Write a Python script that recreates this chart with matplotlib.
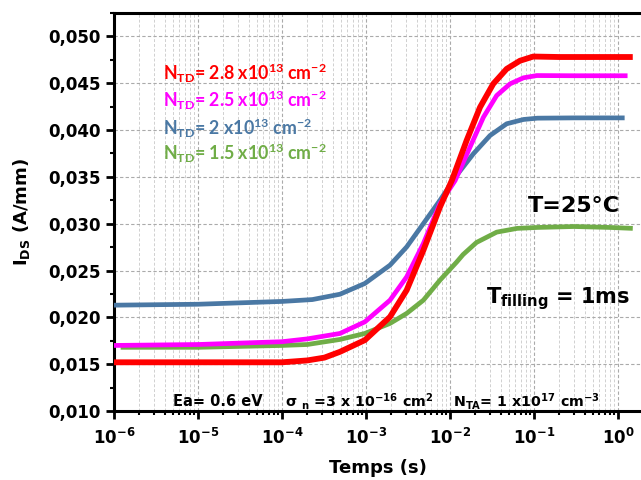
import numpy as np
import matplotlib
matplotlib.use('Agg')
import matplotlib.pyplot as plt
from matplotlib.ticker import LogLocator, MultipleLocator, NullFormatter

plt.rcParams['font.family'] = 'DejaVu Sans'
plt.rcParams['mathtext.fontset'] = 'custom'
plt.rcParams['mathtext.rm'] = 'DejaVu Sans:bold'
plt.rcParams['mathtext.bf'] = 'DejaVu Sans:bold'
plt.rcParams['mathtext.it'] = 'DejaVu Sans:bold'
plt.rcParams['mathtext.sf'] = 'Lato:bold'
plt.rcParams['mathtext.default'] = 'rm'

# data (time in s, IDS in A/mm)
t_red = [1e-6, 1e-5, 1e-4, 2e-4, 3.2e-4, 4.9e-4, 9.7e-4, 1.93e-3, 3.05e-3, 4.82e-3, 7.6e-3,
         1.05e-2, 1.58e-2, 2.28e-2, 3.27e-2, 4.73e-2, 6.8e-2, 9.8e-2, 0.2, 0.5, 1.5]
i_red = [0.0152, 0.0152, 0.0152, 0.0154, 0.0157, 0.01632, 0.01757, 0.02005, 0.0229, 0.02716, 0.03178,
         0.0346, 0.0389, 0.04244, 0.04493, 0.04653, 0.0474, 0.04785, 0.0478, 0.0478, 0.0478]

t_mag = [1e-6, 1e-5, 1e-4, 2e-4, 4.9e-4, 9.7e-4, 1.93e-3, 3.05e-3, 4.82e-3, 7.6e-3,
         1.15e-2, 1.73e-2, 2.5e-2, 3.6e-2, 5.2e-2, 7.5e-2, 0.108, 0.3, 1.3]
i_mag = [0.0170, 0.0171, 0.0174, 0.0177, 0.01828, 0.01952, 0.02183, 0.02432, 0.02788, 0.03214,
         0.0346, 0.03817, 0.04137, 0.04369, 0.04494, 0.04558, 0.04582, 0.0458, 0.0458]

t_blue = [1e-6, 1e-5, 1e-4, 2.3e-4, 4.9e-4, 9.7e-4, 1.93e-3, 3.05e-3, 4.82e-3, 7.6e-3,
          1.2e-2, 1.9e-2, 3e-2, 4.73e-2, 7.5e-2, 0.11, 0.3, 1.2]
i_blue = [0.0213, 0.0214, 0.0217, 0.0219, 0.02247, 0.02362, 0.02557, 0.02752, 0.03001, 0.0325,
          0.03516, 0.03747, 0.03942, 0.04067, 0.04113, 0.04127, 0.0413, 0.0413]

t_green = [1.2e-6, 1e-5, 1e-4, 2e-4, 4.9e-4, 9.7e-4, 1.93e-3, 3.05e-3, 4.82e-3, 7.6e-3,
           1.2e-2, 1.43e-2, 2.07e-2, 3.6e-2, 6.3e-2, 0.11, 0.3, 0.8, 1.5]
i_green = [0.0168, 0.0168, 0.0170, 0.0171, 0.01764, 0.01828, 0.01935, 0.02042, 0.02183, 0.02397,
           0.0259, 0.0267, 0.0280, 0.0291, 0.0295, 0.0296, 0.0297, 0.0296, 0.0295]

legend_labels = [r'N$\mathsf{_{TD}}$= 2.8 x10$\mathsf{^{13}}$ cm$\mathsf{^{-2}}$',
                 r'N$\mathsf{_{TD}}$= 2.5 x10$\mathsf{^{13}}$ cm$\mathsf{^{-2}}$',
                 r'N$\mathsf{_{TD}}$= 2 x10$\mathsf{^{13}}$ cm$\mathsf{^{-2}}$',
                 r'N$\mathsf{_{TD}}$= 1.5 x10$\mathsf{^{13}}$ cm$\mathsf{^{-2}}$']
colors = ['#ff0000', '#ff00ff', '#4a78a4', '#70ad47']

yticks = [0.010, 0.015, 0.020, 0.025, 0.030, 0.035, 0.040, 0.045, 0.050]
ytick_labels = ['0,010', '0,015', '0,020', '0,025', '0,030', '0,035', '0,040', '0,045', '0,050']
xticks = [1e-6, 1e-5, 1e-4, 1e-3, 1e-2, 1e-1, 1e0]
xtick_labels = [r'$10^{-6}$', r'$10^{-5}$', r'$10^{-4}$', r'$10^{-3}$',
                r'$10^{-2}$', r'$10^{-1}$', r'$10^{0}$']

fig = plt.figure(figsize=(6.41, 4.8), dpi=100)
ax = fig.add_axes([114 / 641, 1 - 411 / 480, 527 / 641, 398 / 480])

ax.plot(t_green, i_green, color=colors[3], lw=3.4, solid_capstyle='butt', zorder=3)
ax.plot(t_blue, i_blue, color=colors[2], lw=3.4, solid_capstyle='butt', zorder=3)
ax.plot(t_mag, i_mag, color=colors[1], lw=3.4, solid_capstyle='butt', zorder=4)
ax.plot(t_red, i_red, color=colors[0], lw=4.2, solid_capstyle='butt', zorder=5)

ax.set_xscale('log')
ax.set_xlim(1e-6, 1.88)
ax.set_ylim(0.010, 0.0525)

ax.set_xticks(xticks)
ax.set_xticklabels(xtick_labels, fontsize=12)
ax.xaxis.set_minor_locator(LogLocator(base=10, subs=np.arange(2, 10), numticks=20))
ax.xaxis.set_minor_formatter(NullFormatter())
ax.set_yticks(yticks)
ax.set_yticklabels(ytick_labels, fontsize=12, fontweight='bold')
ax.yaxis.set_minor_locator(MultipleLocator(0.0025))

ax.tick_params(which='major', direction='out', length=6, width=2)
ax.tick_params(which='minor', direction='out', length=3, width=1.5)
ax.tick_params(axis='x', which='major', pad=6)

ax.grid(which='major', axis='both', color='#aaaaaa', ls=(0, (3, 2)), lw=0.8)
ax.grid(which='minor', axis='x', color='#d0d0d0', ls=(0, (3, 2)), lw=0.7)
ax.set_axisbelow(True)

for s in ['left', 'bottom', 'top']:
    ax.spines[s].set_linewidth(2.2)
ax.spines['right'].set_visible(False)

ax.set_xlabel('Temps (s)', fontsize=13, fontweight='bold', labelpad=8)
ax.set_ylabel(r'I$_{DS}$ (A/mm)', fontsize=13, fontweight='bold', labelpad=12)

for lab, c, yy in zip(legend_labels, colors, [0.832, 0.764, 0.693, 0.631]):
    ax.text(0.093, yy, lab, transform=ax.transAxes, color=c, fontsize=12.8,
            fontfamily='Lato', fontweight='bold', va='baseline', ha='left')

ax.text(0.786, 0.50, 'T=25°C', transform=ax.transAxes, fontsize=16,
        fontweight='bold', va='baseline', ha='left')
ax.text(0.706, 0.271, r'T$_{filling}$ = 1ms', transform=ax.transAxes, fontsize=15,
        fontweight='bold', va='baseline', ha='left')

ax.text(0.112, 0.012, 'Ea= 0.6 eV', transform=ax.transAxes, fontsize=10.5,
        fontweight='bold', va='baseline', ha='left')
ax.text(0.324, 0.012, r'σ $_{n}$ =3 x 10$^{-16}$ cm$^{2}$', transform=ax.transAxes,
        fontsize=10.3, fontweight='bold', va='baseline', ha='left')
ax.text(0.643, 0.012, r'N$_{TA}$= 1 x10$^{17}$ cm$^{-3}$', transform=ax.transAxes,
        fontsize=10.3, fontweight='bold', va='baseline', ha='left')

fig.savefig('out.png', dpi=100)
